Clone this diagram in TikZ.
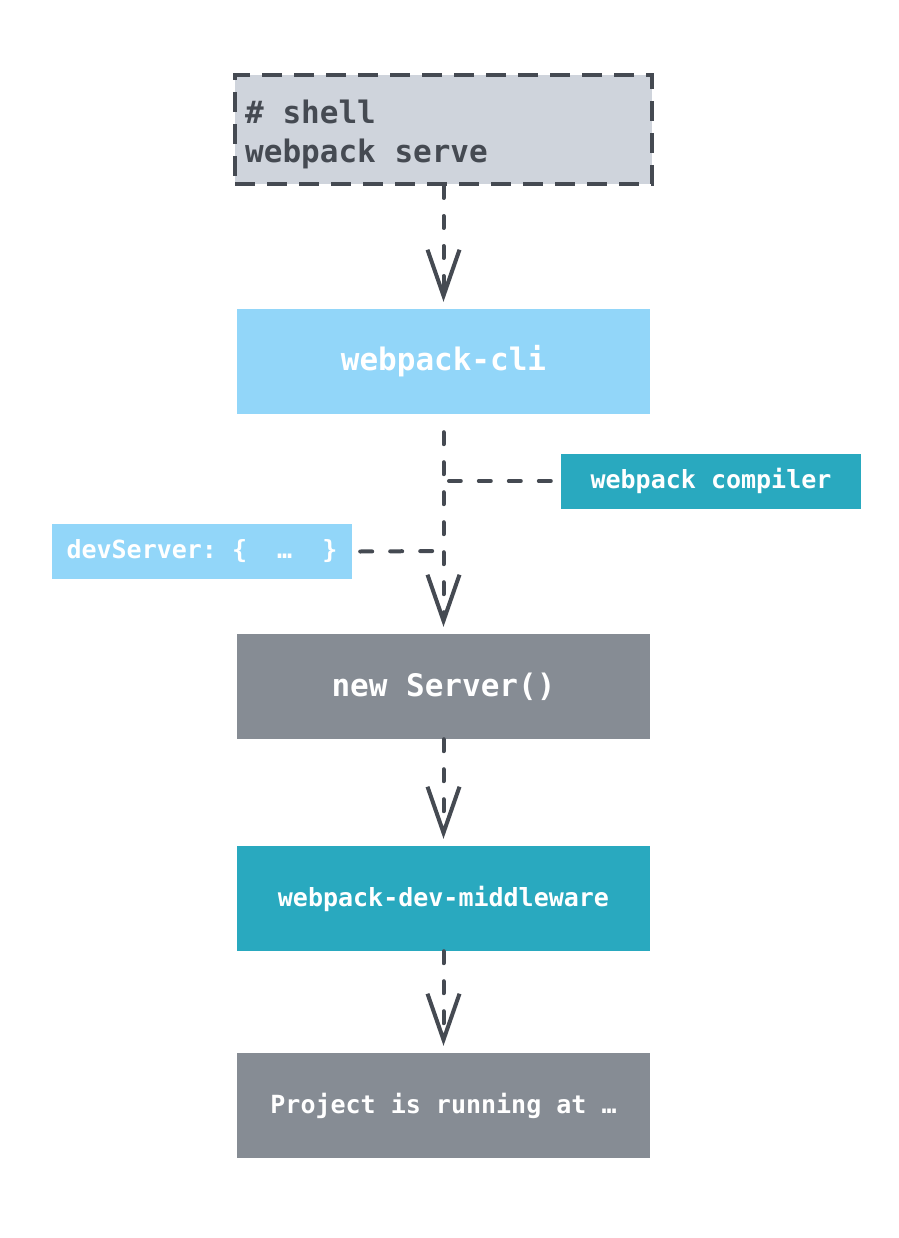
\documentclass[tikz,border=0pt]{standalone}
\usepackage{fontspec}
\setmonofont{DejaVu Sans Mono}
\usetikzlibrary{arrows.meta}
\definecolor{shellfill}{HTML}{CFD4DC}
\definecolor{ink}{HTML}{454A52}
\definecolor{lightblue}{HTML}{92D6F9}
\definecolor{teal}{HTML}{29A9BF}
\definecolor{slate}{HTML}{868C94}
\newcommand{\msp}{\hphantom{x}}
\tikzset{
  bigbox/.style={rectangle, minimum width=413pt, minimum height=105pt, inner sep=0pt,
    text=white, font=\ttfamily\bfseries\fontsize{31}{36}\selectfont},
  smallbox/.style={rectangle, minimum width=300pt, minimum height=55pt, inner sep=0pt,
    text=white, font=\ttfamily\bfseries\fontsize{25}{30}\selectfont},
  shelltext/.style={anchor=base west, inner sep=0pt, text=ink,
    font=\ttfamily\bfseries\fontsize{31}{36}\selectfont},
  flow/.style={draw=ink, line width=4pt, line cap=round, dash pattern=on 12pt off 18pt,
    -{Straight Barb[length=46pt,width=32pt]}, shorten >=7pt},
  link/.style={draw=ink, line width=4pt, line cap=round, dash pattern=on 12pt off 18pt},
}
\begin{document}
\begin{tikzpicture}[x=1pt,y=-1pt]
\useasboundingbox (0,0) rectangle (898,1238);
\node[rectangle, fill=shellfill, draw=ink, line width=4pt, dash pattern=on 20pt off 12pt,
  minimum width=417pt, minimum height=109pt, inner sep=0pt] (shell) at (443.5,129.5) {};
\node[shelltext] (sh1) at (245,124) {\#\msp shell};
\node[shelltext] (sh2) at (245,163) {webpack\msp serve};
\node[bigbox, fill=lightblue] (cli) at (443.5,361.5) {webpack-cli};
\node[smallbox, fill=teal] (comp) at (711,481) {webpack\msp compiler};
\node[smallbox, fill=lightblue] (dev) at (202,551.5) {devServer:\msp\{\msp\msp …\msp\msp\}};
\node[bigbox, fill=slate] (server) at (443.5,686.5) {new\msp Server()};
\node[bigbox, fill=teal, font=\ttfamily\bfseries\fontsize{25}{30}\selectfont] (mid) at (443.5,898.5) {webpack-dev-middleware};
\node[bigbox, fill=slate, font=\ttfamily\bfseries\fontsize{25}{30}\selectfont] (proj) at (443.5,1105.5) {Project\msp is\msp running\msp at\msp …};
\coordinate (jc) at (449,481);
\coordinate (jd) at (440,551);
\draw[flow] (shell.south) -- (cli.north);
\draw[flow] (cli.south) ++(0,18) -- (server.north);
\draw[flow] (server.south) -- (mid.north);
\draw[flow] (mid.south) -- (proj.north);
\draw[link, shorten >=0pt] (comp.west) ++(-10,0) -- (jc);
\draw[link] (dev.east) ++(8,0) -- (jd);
\end{tikzpicture}
\end{document}
